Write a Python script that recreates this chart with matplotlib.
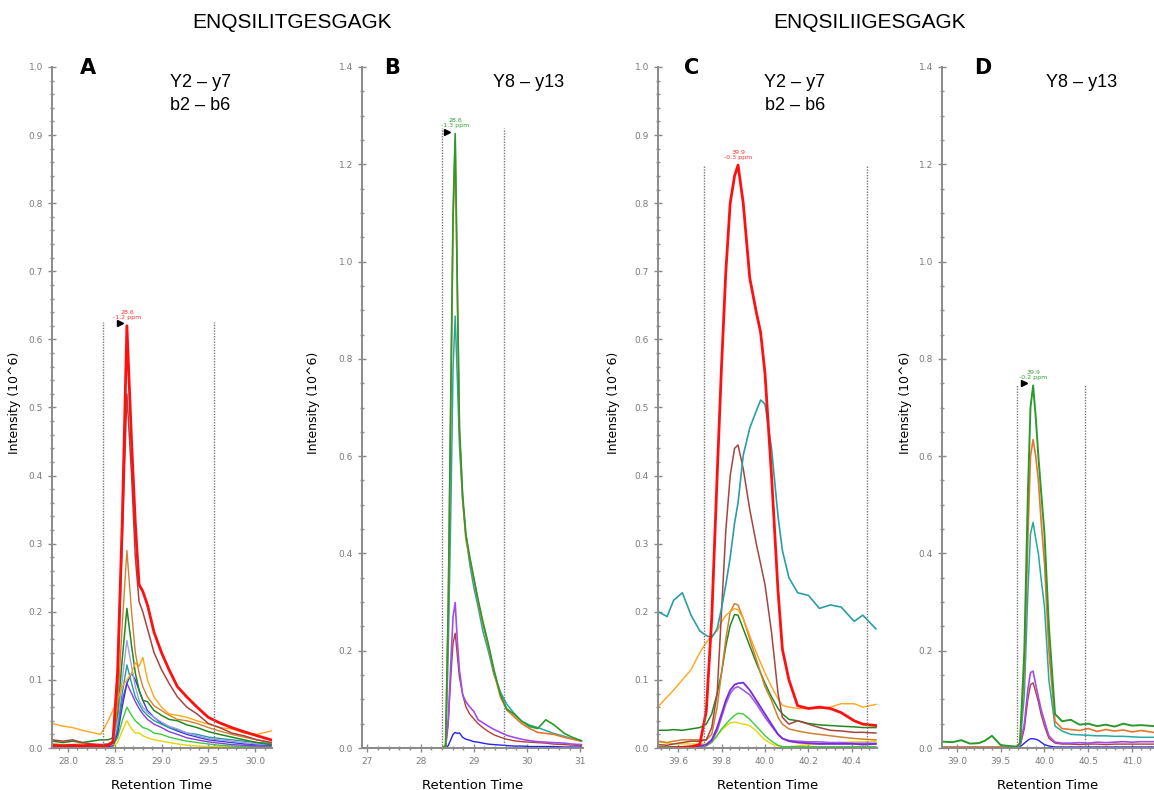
import matplotlib
matplotlib.use("Agg")
import matplotlib.pyplot as plt
from matplotlib.ticker import MultipleLocator

# ---- panel A : ENQSILITGESGAGK, y2-y7 / b2-b6 ----
a_x = [27.83, 27.95, 28.05, 28.15, 28.25, 28.35, 28.43, 28.48, 28.53, 28.58, 28.63, 28.68, 28.72, 28.76,
       28.80, 28.85, 28.92, 29.00, 29.08, 29.17, 29.27, 29.38, 29.50, 29.62, 29.75, 29.88, 30.02, 30.17]
a_red = [0.004, 0.003, 0.004, 0.003, 0.004, 0.003, 0.004, 0.008, 0.11, 0.33, 0.62, 0.45, 0.33, 0.24,
         0.23, 0.21, 0.17, 0.14, 0.115, 0.09, 0.075, 0.06, 0.045, 0.037, 0.03, 0.024, 0.018, 0.012]
a_brown = [0.012, 0.01, 0.012, 0.008, 0.006, 0.005, 0.006, 0.01, 0.09, 0.3, 0.52, 0.40, 0.28, 0.215,
           0.2, 0.175, 0.14, 0.115, 0.095, 0.075, 0.06, 0.05, 0.036, 0.03, 0.022, 0.018, 0.012, 0.008]
a_peru = [0.006, 0.005, 0.005, 0.006, 0.005, 0.005, 0.005, 0.008, 0.06, 0.18, 0.29, 0.2, 0.14, 0.11,
          0.09, 0.075, 0.062, 0.055, 0.048, 0.042, 0.04, 0.036, 0.03, 0.025, 0.02, 0.016, 0.012, 0.008]
a_orange = [0.036, 0.032, 0.03, 0.026, 0.023, 0.02, 0.04, 0.055, 0.07, 0.09, 0.1, 0.11, 0.125, 0.12,
            0.133, 0.1, 0.075, 0.06, 0.05, 0.048, 0.045, 0.04, 0.035, 0.03, 0.028, 0.022, 0.02, 0.025]
a_green = [0.01, 0.008, 0.01, 0.008, 0.01, 0.012, 0.012, 0.015, 0.05, 0.13, 0.205, 0.15, 0.11, 0.085,
           0.07, 0.068, 0.055, 0.048, 0.042, 0.04, 0.034, 0.03, 0.024, 0.02, 0.016, 0.012, 0.008, 0.005]
a_lavender = [0.004, 0.004, 0.004, 0.004, 0.004, 0.004, 0.004, 0.005, 0.04, 0.1, 0.158, 0.12, 0.09, 0.07,
              0.06, 0.052, 0.045, 0.038, 0.032, 0.028, 0.022, 0.018, 0.014, 0.012, 0.01, 0.008, 0.006, 0.005]
a_teal = [0.004, 0.004, 0.004, 0.004, 0.004, 0.004, 0.004, 0.005, 0.03, 0.08, 0.122, 0.095, 0.075, 0.065,
          0.055, 0.048, 0.04, 0.035, 0.03, 0.027, 0.022, 0.02, 0.016, 0.014, 0.012, 0.01, 0.008, 0.007]
a_blue = [0.003, 0.003, 0.003, 0.003, 0.003, 0.003, 0.003, 0.004, 0.02, 0.06, 0.095, 0.11, 0.1, 0.085,
          0.07, 0.055, 0.045, 0.036, 0.03, 0.025, 0.02, 0.016, 0.012, 0.01, 0.008, 0.006, 0.005, 0.004]
a_violet = [0.002, 0.002, 0.002, 0.002, 0.002, 0.002, 0.002, 0.003, 0.025, 0.07, 0.095, 0.08, 0.068, 0.058,
            0.05, 0.042, 0.035, 0.03, 0.024, 0.02, 0.015, 0.012, 0.009, 0.007, 0.005, 0.004, 0.003, 0.003]
a_lime = [0.002, 0.002, 0.002, 0.002, 0.002, 0.002, 0.002, 0.003, 0.015, 0.04, 0.06, 0.048, 0.04, 0.035,
          0.03, 0.028, 0.022, 0.02, 0.016, 0.013, 0.01, 0.008, 0.006, 0.004, 0.003, 0.002, 0.002, 0.002]
a_yellow = [0.001, 0.001, 0.001, 0.001, 0.001, 0.001, 0.001, 0.002, 0.008, 0.025, 0.04, 0.028, 0.022, 0.022,
            0.018, 0.015, 0.012, 0.01, 0.008, 0.006, 0.004, 0.003, 0.002, 0.002, 0.002, 0.002, 0.002, 0.002]

# ---- panel B : ENQSILITGESGAGK, y8-y13 ----
b_x = [26.9, 27.2, 27.5, 27.8, 28.1, 28.4, 28.47, 28.52, 28.57, 28.61, 28.65, 28.69, 28.73, 28.79, 28.85, 28.92,
       29.0, 29.08, 29.17, 29.27, 29.38, 29.5, 29.62, 29.75, 29.9, 30.05, 30.2, 30.35, 30.5, 30.7, 30.85, 31.02]
b_green = [0, 0, 0, 0, 0, 0, 0.005, 0.3, 0.75, 1.1, 1.263, 0.95, 0.66, 0.52, 0.44, 0.395,
           0.35, 0.305, 0.26, 0.215, 0.16, 0.11, 0.08, 0.07, 0.055, 0.044, 0.04, 0.058, 0.048, 0.03, 0.022, 0.015]
b_orange = [0, 0, 0, 0, 0, 0, 0.004, 0.28, 0.72, 1.08, 1.247, 0.94, 0.65, 0.51, 0.43, 0.39,
            0.345, 0.3, 0.255, 0.21, 0.155, 0.105, 0.078, 0.065, 0.05, 0.04, 0.032, 0.03, 0.028, 0.022, 0.018, 0.014]
b_teal = [0, 0, 0, 0, 0, 0, 0.003, 0.2, 0.5, 0.78, 0.888, 0.76, 0.62, 0.51, 0.44, 0.38,
          0.33, 0.29, 0.24, 0.2, 0.15, 0.115, 0.09, 0.072, 0.055, 0.047, 0.042, 0.036, 0.03, 0.024, 0.019, 0.015]
b_violet = [0, 0, 0, 0, 0, 0, 0.002, 0.06, 0.18, 0.27, 0.299, 0.22, 0.16, 0.11, 0.095, 0.085,
            0.075, 0.058, 0.052, 0.045, 0.038, 0.032, 0.026, 0.022, 0.018, 0.015, 0.013, 0.012, 0.011, 0.01, 0.008, 0.007]
b_brown = [0, 0, 0, 0, 0, 0, 0.002, 0.05, 0.15, 0.215, 0.236, 0.19, 0.145, 0.11, 0.085, 0.07,
           0.06, 0.05, 0.042, 0.034, 0.027, 0.022, 0.018, 0.015, 0.013, 0.012, 0.011, 0.01, 0.008, 0.007, 0.006, 0.005]
b_blue = [0, 0, 0, 0, 0, 0, 0.0, 0.005, 0.018, 0.028, 0.032, 0.03, 0.031, 0.022, 0.018, 0.016,
          0.013, 0.012, 0.01, 0.008, 0.007, 0.006, 0.005, 0.004, 0.004, 0.003, 0.003, 0.003, 0.003, 0.002, 0.002, 0.002]

# ---- panel C : ENQSILIIGESGAGK, y2-y7 / b2-b6 ----
c_x = [39.51, 39.55, 39.58, 39.62, 39.66, 39.70, 39.73, 39.755, 39.78, 39.80, 39.82, 39.84, 39.86, 39.876, 39.90,
       39.93, 39.96, 39.98, 40.0, 40.03, 40.06, 40.08, 40.11, 40.15, 40.2, 40.25, 40.3, 40.35, 40.41, 40.45, 40.51]
c_red = [0.0, 0.0, 0.0, 0.001, 0.002, 0.005, 0.054, 0.19, 0.40, 0.56, 0.70, 0.80, 0.84, 0.856, 0.80,
         0.69, 0.64, 0.61, 0.55, 0.40, 0.23, 0.145, 0.10, 0.062, 0.058, 0.06, 0.058, 0.052, 0.04, 0.035, 0.033]
c_teal = [0.20, 0.193, 0.217, 0.228, 0.195, 0.172, 0.165, 0.162, 0.175, 0.205, 0.24, 0.28, 0.33, 0.36, 0.43,
          0.47, 0.495, 0.511, 0.505, 0.44, 0.34, 0.29, 0.25, 0.228, 0.224, 0.205, 0.21, 0.207, 0.186, 0.195, 0.175]
c_brown = [0.005, 0.004, 0.006, 0.008, 0.01, 0.01, 0.012, 0.03, 0.08, 0.2, 0.32, 0.4, 0.44, 0.445, 0.41,
           0.35, 0.30, 0.27, 0.24, 0.17, 0.08, 0.045, 0.035, 0.04, 0.035, 0.03, 0.026, 0.025, 0.023, 0.023, 0.022]
c_orange = [0.061, 0.075, 0.085, 0.1, 0.115, 0.14, 0.155, 0.165, 0.172, 0.185, 0.195, 0.2, 0.205, 0.203, 0.19,
            0.165, 0.14, 0.125, 0.11, 0.09, 0.072, 0.063, 0.06, 0.058, 0.058, 0.058, 0.06, 0.065, 0.065, 0.06, 0.064]
c_peru = [0.01, 0.008, 0.01, 0.012, 0.012, 0.012, 0.012, 0.02, 0.06, 0.11, 0.16, 0.2, 0.212, 0.21, 0.19,
          0.16, 0.13, 0.11, 0.09, 0.07, 0.045, 0.035, 0.028, 0.025, 0.022, 0.02, 0.018, 0.016, 0.014, 0.013, 0.012]
c_green = [0.026, 0.026, 0.027, 0.026, 0.028, 0.03, 0.035, 0.05, 0.08, 0.11, 0.15, 0.18, 0.196, 0.195, 0.175,
           0.15, 0.125, 0.11, 0.095, 0.075, 0.058, 0.05, 0.042, 0.04, 0.036, 0.034, 0.033, 0.032, 0.031, 0.03, 0.03]
c_purple = [0.0, 0.0, 0.001, 0.001, 0.002, 0.003, 0.005, 0.012, 0.03, 0.05, 0.07, 0.085, 0.093, 0.095, 0.096,
            0.085, 0.07, 0.06, 0.05, 0.035, 0.02, 0.014, 0.01, 0.008, 0.007, 0.006, 0.006, 0.006, 0.006, 0.005, 0.006]
c_violet = [0.0, 0.0, 0.0, 0.0, 0.001, 0.002, 0.004, 0.01, 0.025, 0.045, 0.065, 0.08, 0.088, 0.09, 0.085,
            0.078, 0.065, 0.055, 0.045, 0.032, 0.02, 0.014, 0.011, 0.01, 0.009, 0.009, 0.008, 0.008, 0.007, 0.007, 0.007]
c_lime = [0.002, 0.002, 0.002, 0.002, 0.002, 0.002, 0.003, 0.008, 0.018, 0.028, 0.035, 0.042, 0.048, 0.051, 0.05,
          0.042, 0.032, 0.025, 0.018, 0.01, 0.004, 0.002, 0.002, 0.002, 0.002, 0.002, 0.002, 0.002, 0.002, 0.002, 0.002]
c_yellow = [0.009, 0.007, 0.006, 0.006, 0.006, 0.006, 0.006, 0.01, 0.018, 0.026, 0.032, 0.037, 0.038, 0.037, 0.035,
            0.033, 0.025, 0.018, 0.012, 0.006, 0.003, 0.002, 0.002, 0.003, 0.005, 0.006, 0.007, 0.008, 0.009, 0.009, 0.01]

# ---- panel D : ENQSILIIGESGAGK, y8-y13 ----
d_x = [38.84, 38.95, 39.05, 39.15, 39.25, 39.32, 39.4, 39.5, 39.6, 39.68, 39.72, 39.77, 39.81, 39.84, 39.87, 39.9,
       39.93, 39.96, 40.0, 40.05, 40.12, 40.2, 40.3, 40.4, 40.5, 40.6, 40.7, 40.8, 40.9, 41.0, 41.1, 41.25]
d_green = [0.013, 0.012, 0.016, 0.009, 0.01, 0.015, 0.025, 0.006, 0.004, 0.003, 0.01, 0.2, 0.52, 0.7, 0.745, 0.68,
           0.6, 0.53, 0.44, 0.25, 0.07, 0.055, 0.058, 0.048, 0.05, 0.045, 0.048, 0.044, 0.05, 0.046, 0.047, 0.045]
d_orange = [0.002, 0.002, 0.002, 0.002, 0.002, 0.002, 0.002, 0.002, 0.002, 0.002, 0.008, 0.16, 0.43, 0.6, 0.634, 0.6,
            0.55, 0.47, 0.38, 0.2, 0.055, 0.04, 0.038, 0.036, 0.04, 0.034, 0.038, 0.035, 0.037, 0.033, 0.036, 0.032]
d_teal = [0.001, 0.001, 0.001, 0.001, 0.001, 0.001, 0.001, 0.001, 0.001, 0.001, 0.006, 0.11, 0.32, 0.44, 0.464, 0.43,
          0.4, 0.35, 0.29, 0.14, 0.045, 0.035, 0.028, 0.027, 0.026, 0.025, 0.025, 0.024, 0.024, 0.023, 0.022, 0.022]
d_violet = [0.001, 0.001, 0.001, 0.001, 0.001, 0.001, 0.001, 0.001, 0.001, 0.001, 0.004, 0.05, 0.12, 0.155, 0.158, 0.13,
            0.105, 0.08, 0.055, 0.025, 0.012, 0.01, 0.01, 0.011, 0.01, 0.012, 0.011, 0.012, 0.013, 0.012, 0.013, 0.013]
d_brown = [0.001, 0.001, 0.001, 0.001, 0.001, 0.001, 0.001, 0.001, 0.001, 0.001, 0.003, 0.04, 0.1, 0.13, 0.134, 0.115,
           0.095, 0.07, 0.045, 0.02, 0.01, 0.008, 0.008, 0.007, 0.008, 0.008, 0.007, 0.008, 0.008, 0.008, 0.008, 0.008]
d_blue = [0.0, 0.0, 0.0, 0.0, 0.0, 0.0, 0.0, 0.0, 0.0, 0.0, 0.002, 0.01, 0.016, 0.019, 0.019, 0.018,
          0.016, 0.012, 0.007, 0.004, 0.002, 0.002, 0.002, 0.002, 0.002, 0.002, 0.002, 0.002, 0.002, 0.002, 0.002, 0.002]

titles = ["ENQSILITGESGAGK", "ENQSILIIGESGAGK"]
panel_letters = ["A", "B", "C", "D"]
ion_labels = ["Y2 \u2013 y7\nb2 \u2013 b6", "Y8 \u2013 y13", "Y2 \u2013 y7\nb2 \u2013 b6", "Y8 \u2013 y13"]
peak_labels = ["28.6\n-1.2 ppm", "28.6\n-1.3 ppm", "39.9\n-0.3 ppm", "39.9\n-0.2 ppm"]

GREY = "#8a8a8a"

fig = plt.figure(figsize=(11.54, 7.9), dpi=100)
fig.patch.set_facecolor("white")

bottom = 42 / 790
height = (748 - 67) / 790
lefts = [52, 362, 658, 942]
rights = [272, 583, 877, 1154]
axes = []
for l, r in zip(lefts, rights):
    ax = fig.add_axes([l / 1154, bottom, (r - l) / 1154, height])
    for s in ["top", "right"]:
        ax.spines[s].set_visible(False)
    for s in ["left", "bottom"]:
        ax.spines[s].set_color(GREY)
        ax.spines[s].set_linewidth(1.4)
    ax.tick_params(which="both", direction="inout", colors=GREY, labelcolor="#7a7a7a", labelsize=6.5)
    ax.tick_params(which="major", length=6, width=1)
    ax.tick_params(which="minor", length=3.5, width=1)
    axes.append(ax)

axA, axB, axC, axD = axes

# panel A
for y, c, lw in [(a_yellow, "#e8d400", 1.0), (a_lime, "#3ccc3c", 1.0), (a_violet, "#8a3be2", 1.0),
                 (a_blue, "#3a3ad8", 1.0), (a_teal, "#1f9e9e", 1.0), (a_lavender, "#a0a0e0", 1.0),
                 (a_green, "#1f8a1f", 1.1), (a_orange, "#ffa51a", 1.0), (a_peru, "#d2802f", 1.0),
                 (a_brown, "#a8443f", 1.1), (a_red, "#ff1010", 2.0)]:
    axA.plot(a_x, y, color=c, lw=lw)
axA.set_xlim(27.83, 30.18)
axA.set_ylim(0, 1.0)

# panel B
for y, c, lw in [(b_blue, "#2525f0", 1.0), (b_brown, "#b5403a", 1.0), (b_violet, "#a24cf0", 1.2),
                 (b_teal, "#22aaa5", 1.1), (b_orange, "#ec742a", 1.2), (b_green, "#2a9a2a", 1.2)]:
    axB.plot(b_x, y, color=c, lw=lw)
axB.set_xlim(26.9, 31.05)
axB.set_ylim(0, 1.4)

# panel C
for y, c, lw in [(c_yellow, "#e8d400", 1.0), (c_lime, "#3ccc3c", 1.0), (c_violet, "#a060e0", 1.2),
                 (c_purple, "#7a2ad8", 1.3), (c_green, "#1f8a1f", 1.1), (c_peru, "#d2802f", 1.1),
                 (c_orange, "#ffa51a", 1.0), (c_brown, "#a8443f", 1.1), (c_teal, "#2a9ea5", 1.2),
                 (c_red, "#ff1010", 2.0)]:
    axC.plot(c_x, y, color=c, lw=lw)
axC.set_xlim(39.508, 40.515)
axC.set_ylim(0, 1.0)

# panel D
for y, c, lw in [(d_blue, "#2525f0", 1.0), (d_brown, "#b5403a", 1.0), (d_violet, "#a24cf0", 1.2),
                 (d_teal, "#22aaa5", 1.1), (d_orange, "#ec742a", 1.2), (d_green, "#2a9a2a", 1.4)]:
    axD.plot(d_x, y, color=c, lw=lw)
axD.set_xlim(38.83, 41.25)
axD.set_ylim(0, 1.4)

# ticks
axA.xaxis.set_major_locator(MultipleLocator(0.5))
axA.xaxis.set_minor_locator(MultipleLocator(0.1))
axB.xaxis.set_major_locator(MultipleLocator(1))
axB.xaxis.set_minor_locator(MultipleLocator(0.2))
axC.xaxis.set_major_locator(MultipleLocator(0.2))
axC.xaxis.set_minor_locator(MultipleLocator(0.04))
axD.xaxis.set_major_locator(MultipleLocator(0.5))
axD.xaxis.set_minor_locator(MultipleLocator(0.1))
for ax in (axA, axC):
    ax.yaxis.set_major_locator(MultipleLocator(0.1))
    ax.yaxis.set_minor_locator(MultipleLocator(0.02))
    ax.xaxis.set_major_formatter(matplotlib.ticker.FormatStrFormatter("%.1f"))
    ax.yaxis.set_major_formatter(matplotlib.ticker.FormatStrFormatter("%.1f"))
for ax in (axB, axD):
    ax.yaxis.set_major_locator(MultipleLocator(0.2))
    ax.yaxis.set_minor_locator(MultipleLocator(0.05))
    ax.yaxis.set_major_formatter(matplotlib.ticker.FormatStrFormatter("%.1f"))
axD.xaxis.set_major_formatter(matplotlib.ticker.FormatStrFormatter("%.1f"))

# integration boundaries (dotted) and apex markers
bounds = [(28.38, 29.56, 0.625), (28.40, 29.57, 1.275), (39.72, 40.47, 0.856), (39.69, 40.46, 0.746)]
for ax, (x0, x1, top) in zip(axes, bounds):
    ax.vlines([x0, x1], 0, top, colors="#777777", linestyles=(0, (1, 1)), lw=1.0)

apex = [(28.63, 0.62, "#ff3030"), (28.65, 1.263, "#33a033"), (39.876, 0.856, "#ff3030"), (39.87, 0.745, "#33a033")]
for ax, (px, py, col), lab in zip(axes, apex, peak_labels):
    ax.text(px, py + ax.get_ylim()[1] * 0.008, lab, color=col, fontsize=4.5, ha="center", va="bottom",
            linespacing=1.0)
axA.plot([28.56], [0.624], marker=">", color="black", ms=5)
axB.plot([28.5], [1.266], marker=">", color="black", ms=5)
axD.plot([39.77], [0.75], marker=">", color="black", ms=5)

# text
for i, ax in enumerate(axes):
    ax.text(0.5, -0.045, "Retention Time", transform=ax.transAxes, ha="center", va="top",
            fontsize=9.5, family="DejaVu Sans")

ylab_x = [15, 313, 613, 905]
for x in ylab_x:
    fig.text(x / 1154, 1 - 403 / 790, "Intensity (10^6)", rotation=90, ha="center", va="center",
             fontsize=9, family="DejaVu Sans")

letter_x = [88, 392, 692, 983]
for x, lab in zip(letter_x, panel_letters):
    fig.text(x / 1154, 1 - 68 / 790, lab, ha="center", va="center", fontsize=15, fontweight="bold",
             family="DejaVu Sans")

ion_x = [200, 529, 795, 1082]
for x, lab in zip(ion_x, ion_labels):
    fig.text(x / 1154, 1 - 74 / 790, lab, ha="center", va="top", fontsize=13, family="Liberation Sans",
             linespacing=1.45)

for x, t in zip([292, 870], titles):
    fig.text(x / 1154, 1 - 22 / 790, t, ha="center", va="center", fontsize=15, family="Liberation Sans")

fig.savefig("out.png", dpi=100)
